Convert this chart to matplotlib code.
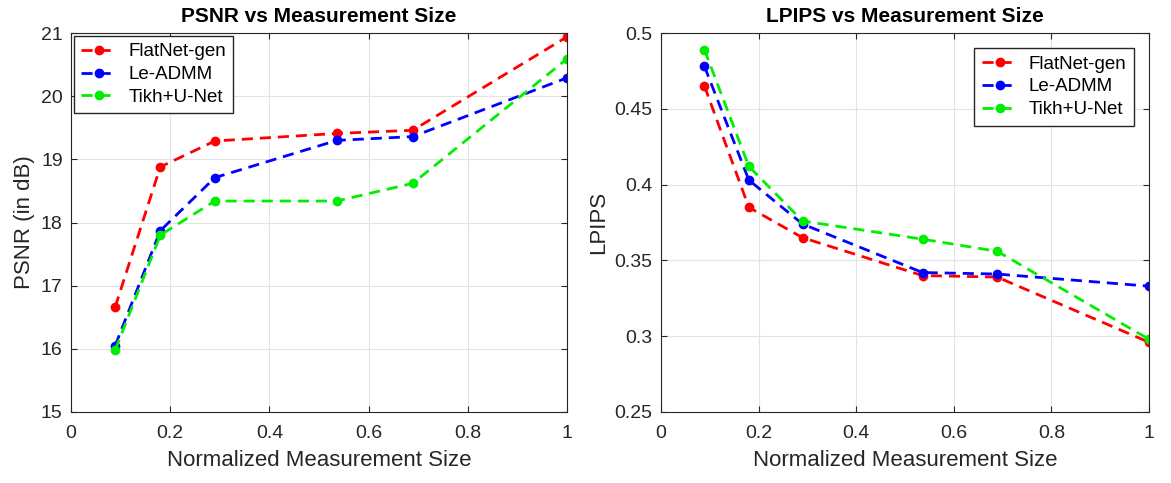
import matplotlib.pyplot as plt

# normalized measurement sizes
sizes = [0.089, 0.18, 0.29, 0.536, 0.689, 1.0]

psnr_flatnet = [16.66, 18.88, 19.29, 19.41, 19.46, 20.94]
psnr_admm = [16.05, 17.87, 18.71, 19.30, 19.36, 20.29]
psnr_tikh = [15.98, 17.80, 18.34, 18.34, 18.62, 20.59]

lpips_flatnet = [0.465, 0.385, 0.365, 0.340, 0.339, 0.296]
lpips_admm = [0.478, 0.403, 0.374, 0.342, 0.341, 0.333]
lpips_tikh = [0.489, 0.412, 0.376, 0.364, 0.356, 0.298]

labels = ["FlatNet-gen", "Le-ADMM", "Tikh+U-Net"]
colors = ["#ff0000", "#0000ff", "#00ee00"]
xticks = [0, 0.2, 0.4, 0.6, 0.8, 1]
xticklabels = ["0", "0.2", "0.4", "0.6", "0.8", "1"]

plt.rcParams["font.family"] = ["Liberation Sans", "DejaVu Sans"]

fig = plt.figure(figsize=(11.71, 4.83), dpi=100)
W, H = 1171, 483
ax1 = fig.add_axes([71 / W, 1 - 412 / H, (567 - 71) / W, (412 - 33) / H])
ax2 = fig.add_axes([661 / W, 1 - 412 / H, (1149 - 661) / W, (412 - 33) / H])


def style(ax):
    ax.grid(True, color="#e3e3e3", linewidth=0.8)
    ax.set_axisbelow(True)
    ax.tick_params(direction="in", labelsize=14, length=4, color="#262626",
                   top=True, right=True, labelcolor="#262626")
    ax.tick_params(axis="x", pad=9)
    ax.tick_params(axis="y", pad=6)
    for s in ax.spines.values():
        s.set_color("#262626")
        s.set_linewidth(0.8)
    ax.set_xlim(0, 1)
    ax.set_xticks(xticks)
    ax.set_xticklabels(xticklabels)
    ax.set_xlabel("Normalized Measurement Size", fontsize=16, color="#262626", labelpad=6)


for ys, lab, c in zip([psnr_flatnet, psnr_admm, psnr_tikh], labels, colors):
    ax1.plot(sizes, ys, "--o", color=c, label=lab, linewidth=2, markersize=6, dashes=(4, 2.5))
ax1.set_ylim(15, 21)
ax1.set_ylabel("PSNR (in dB)", fontsize=16, color="#262626")
ax1.set_title("PSNR vs Measurement Size", fontsize=15, fontweight="bold", pad=8)
style(ax1)
ax1.legend(loc="upper left", fontsize=13.5, fancybox=False, edgecolor="#262626",
           borderaxespad=0.15, handlelength=1.9, handletextpad=0.6, labelspacing=0.3,
           framealpha=1)

for ys, lab, c in zip([lpips_flatnet, lpips_admm, lpips_tikh], labels, colors):
    ax2.plot(sizes, ys, "--o", color=c, label=lab, linewidth=2, markersize=6, dashes=(4, 2.5))
ax2.set_ylim(0.25, 0.5)
ax2.set_yticks([0.25, 0.3, 0.35, 0.4, 0.45, 0.5])
ax2.set_yticklabels(["0.25", "0.3", "0.35", "0.4", "0.45", "0.5"])
ax2.set_ylabel("LPIPS", fontsize=16, color="#262626")
ax2.set_title("LPIPS vs Measurement Size", fontsize=15, fontweight="bold", pad=8)
style(ax2)
ax2.legend(loc="upper right", fontsize=13.5, fancybox=False, edgecolor="#262626",
           borderaxespad=0.8, handlelength=1.9, handletextpad=0.6, labelspacing=0.3,
           framealpha=1)

fig.savefig("out.png", dpi=100)
